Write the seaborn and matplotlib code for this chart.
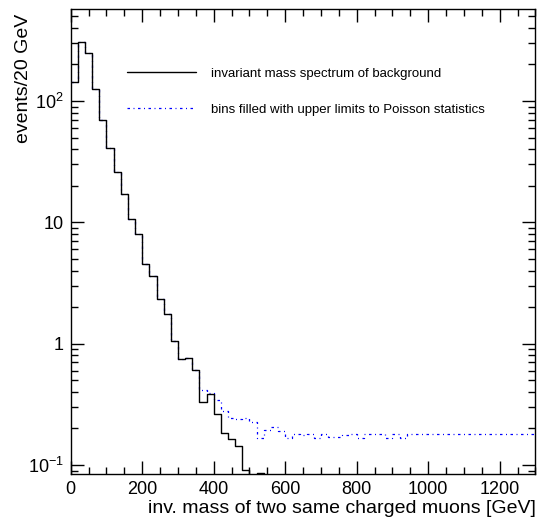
import numpy as np
import pandas as pd
import matplotlib
matplotlib.use("Agg")
import matplotlib.pyplot as plt
import seaborn as sns
from matplotlib.ticker import MultipleLocator, LogLocator, NullFormatter

# ---- data (events per 20 GeV bin, bins from 0 to 1300 GeV) ----
bin_edges = list(range(0, 1320, 20))

background = [
    144, 305, 250, 125, 69.7, 40.7, 26.1, 17.0, 10.6, 7.96,
    4.51, 3.61, 2.32, 1.75, 1.05, 0.743, 0.758, 0.607, 0.332, 0.385,
    0.263, 0.183, 0.163, 0.143, 0.091, 0, 0.0855, 0, 0, 0,
    0, 0, 0, 0, 0, 0, 0, 0, 0, 0,
    0, 0, 0, 0, 0, 0, 0, 0, 0, 0,
    0, 0, 0, 0, 0, 0, 0, 0, 0, 0,
    0, 0, 0, 0, 0,
]

upper_limits = [
    144, 305, 250, 125, 69.7, 40.7, 26.1, 17.0, 10.6, 7.96,
    4.51, 3.61, 2.32, 1.75, 1.05, 0.743, 0.758, 0.607, 0.415, 0.39,
    0.34, 0.28, 0.245, 0.24, 0.245, 0.226, 0.168, 0.195, 0.207, 0.19,
    0.166, 0.179, 0.177, 0.179, 0.166, 0.179, 0.171, 0.171, 0.177, 0.179,
    0.168, 0.179, 0.179, 0.179, 0.166, 0.179, 0.166, 0.179, 0.179, 0.179,
    0.179, 0.179, 0.179, 0.179, 0.179, 0.179, 0.179, 0.179, 0.179, 0.179,
    0.179, 0.179, 0.179, 0.179, 0.179,
]

labels = ["invariant mass spectrum of background",
          "bins filled with upper limits to Poisson statistics"]
x_tick_values = [0, 200, 400, 600, 800, 1000, 1200]
y_tick_values = [0.1, 1, 10, 100]
y_tick_labels = ["$10^{-1}$", "1", "10", "$10^{2}$"]

# ---- style ----
sns.set_style("ticks")
plt.rcParams["font.family"] = ["Liberation Sans", "DejaVu Sans"]
plt.rcParams["mathtext.fontset"] = "custom"
plt.rcParams["mathtext.rm"] = "Liberation Sans"
plt.rcParams["mathtext.it"] = "Liberation Sans:italic"
plt.rcParams["mathtext.bf"] = "Liberation Sans:bold"
plt.rcParams["mathtext.default"] = "regular"
plt.rcParams["text.color"] = "black"
plt.rcParams["axes.labelcolor"] = "black"
plt.rcParams["xtick.color"] = "black"
plt.rcParams["ytick.color"] = "black"
plt.rcParams["xtick.labelcolor"] = "black"
plt.rcParams["ytick.labelcolor"] = "black"

centers = [e + 10 for e in bin_edges[:-1]]
df = pd.DataFrame({"mass": centers, "background": background, "upper": upper_limits})

fig, ax = plt.subplots(figsize=(5.41, 5.25), dpi=100)
fig.subplots_adjust(left=0.1307, right=0.9898, bottom=0.0966, top=0.9823)

sns.histplot(data=df, x="mass", weights="background", bins=bin_edges,
             element="step", fill=False, color="black", linewidth=1.0,
             zorder=3, ax=ax)
sns.histplot(data=df, x="mass", weights="upper", bins=bin_edges,
             element="step", fill=False, color="blue", linewidth=0.9,
             linestyle=(0, (2.0, 2.8, 0.8, 2.8)), zorder=2, ax=ax)

ax.set_yscale("log")
ax.set_xlim(0, 1300)
ax.set_ylim(0.0838, 570)

ax.set_xticks(x_tick_values)
ax.xaxis.set_minor_locator(MultipleLocator(50))
ax.set_yticks(y_tick_values)
ax.set_yticklabels(y_tick_labels)
ax.yaxis.set_minor_locator(LogLocator(base=10, subs=range(2, 10), numticks=20))
ax.yaxis.set_minor_formatter(NullFormatter())

ax.tick_params(which="both", direction="in", top=True, right=True, width=1.0,
               color="black", labelcolor="black")
ax.tick_params(which="major", length=9.5)
ax.tick_params(which="minor", length=4.8)
ax.tick_params(axis="both", labelsize=13, pad=5)
for s in ax.spines.values():
    s.set_linewidth(1.0)
    s.set_color("black")

ax.set_xlabel("inv. mass of two same charged muons [GeV]", fontsize=14, loc="right",
              labelpad=1, color="black")
ax.set_ylabel("events/20 GeV", fontsize=14, loc="top", color="black")
ax.yaxis.set_label_coords(-0.0833, 0.991)

lines = ax.get_lines()
leg = ax.legend(lines[:2], labels, loc="upper left", bbox_to_anchor=(0.121, 0.875),
                frameon=False, fontsize=9.5, handlelength=5.2, handletextpad=1.15,
                labelspacing=1.8, borderpad=0, borderaxespad=0)
for t in leg.get_texts():
    t.set_color("black")

fig.savefig("out.png", dpi=100)
